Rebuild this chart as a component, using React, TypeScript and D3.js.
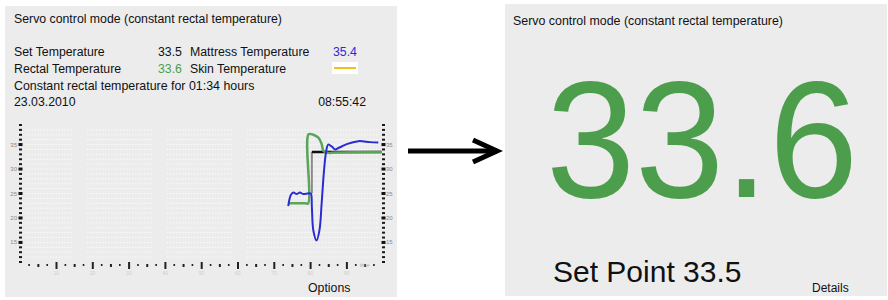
import React, { useRef, useEffect } from 'react';
import * as d3 from 'd3';

// time (minutes on the trend axis) and temperatures
const mattressTime = [73.9, 74.6, 75.3, 76.2, 77.1, 78.0, 79.3, 80.1, 80.4, 80.8, 81.7, 82.5, 83.1, 83.7, 84.3, 84.9, 85.9, 86.8, 87.7, 88.6, 90.0, 93.2, 96.4, 98.7];
const mattressTemp = [22.4, 24.7, 25.2, 24.9, 25.2, 24.9, 25.0, 25.0, 22.3, 17.5, 15.4, 17.5, 23.0, 29.2, 33.4, 35.0, 34.6, 34.0, 34.3, 34.6, 35.1, 35.7, 35.5, 35.4];
const rectalTime = [73.9, 78.5, 79.4, 79.5, 80.8, 82.2, 83.1, 83.6, 84.9, 86.8, 99.6];
const rectalTemp = [23.0, 23.0, 23.0, 37.1, 37.0, 36.4, 35.1, 33.7, 33.3, 33.4, 33.5];
const setTime = [80.4, 99.6];
const setTemp = [33.5, 33.5];
const setStepTemp = [25.0, 33.5];

const yMajorTicks = [15, 20, 25, 30, 35];
const gridBlocks = [[1.5, 14.5], [18.5, 36.5], [40.5, 58.5], [62.5, 99]];

const GREEN = '#4c9e4c';
const BLUE = '#2b2bd4';
const PANEL = '#ececec';
const FONT = 'Liberation Sans, Arial, sans-serif';

const TrendPlot = () => {
  const ref = useRef<SVGGElement>(null);

  useEffect(() => {
    if (!ref.current) return;
    const g = d3.select(ref.current);
    g.selectAll('*').remove();

    const x = d3.scaleLinear().domain([0, 100]).range([20, 383]);
    const y = d3.scaleLinear().domain([11, 39]).range([262, 125]);

    // faint dotted grid
    const minorY = d3.range(12, 39, 1);
    gridBlocks.forEach(([a, b]) => {
      g.append('g')
        .selectAll('line')
        .data(minorY)
        .enter()
        .append('line')
        .attr('x1', x(a))
        .attr('x2', x(b))
        .attr('y1', d => y(d))
        .attr('y2', d => y(d))
        .attr('stroke', '#fbfbfb')
        .attr('stroke-width', 1)
        .attr('stroke-dasharray', '1.5,1.5');
    });

    // vertical axes (dotted ticks)
    [x(0), x(100)].forEach((ax, side) => {
      const axis = g.append('g');
      axis.selectAll('rect.minor')
        .data(d3.range(11, 39.5, 1))
        .enter()
        .append('rect')
        .attr('x', ax - 1)
        .attr('y', d => y(d) - 1)
        .attr('width', 3)
        .attr('height', 2)
        .attr('fill', '#1a1a1a');
      axis.selectAll('rect.major')
        .data(yMajorTicks)
        .enter()
        .append('rect')
        .attr('x', ax - 1.5)
        .attr('y', d => y(d) - 1.5)
        .attr('width', 4)
        .attr('height', 3)
        .attr('fill', '#111');
      axis.selectAll('text')
        .data(yMajorTicks)
        .enter()
        .append('text')
        .attr('x', side === 0 ? ax - 3 : ax + 3)
        .attr('y', d => y(d) + 2)
        .attr('text-anchor', side === 0 ? 'end' : 'start')
        .attr('font-size', 6)
        .attr('font-family', FONT)
        .attr('fill', '#8a8a8a')
        .text(d => d);
    });

    // time axis
    const xa = g.append('g');
    const xBase = 265;
    xa.selectAll('rect.minor')
      .data(d3.range(2.5, 100, 2.5))
      .enter()
      .append('rect')
      .attr('x', d => x(d) - 0.8)
      .attr('y', d => (d % 10 === 0 ? xBase - 3 : xBase - 1))
      .attr('width', d => (d % 5 === 0 ? 2 : 1.6))
      .attr('height', d => (d % 10 === 0 ? 7 : d % 5 === 0 ? 3 : 2))
      .attr('fill', '#222');
    xa.selectAll('text')
      .data(d3.range(10, 100, 10))
      .enter()
      .append('text')
      .attr('x', d => x(d))
      .attr('y', xBase + 10)
      .attr('text-anchor', 'middle')
      .attr('font-size', 5)
      .attr('font-family', FONT)
      .attr('fill', '#cdcdcd')
      .text(d => d);
    xa.append('text')
      .attr('x', x(95))
      .attr('y', xBase + 2)
      .attr('text-anchor', 'middle')
      .attr('font-size', 5)
      .attr('font-family', FONT)
      .attr('fill', '#aaa')
      .text('time');

    const line = d3.line<[number, number]>()
      .x(d => x(d[0]))
      .y(d => y(d[1]))
      .curve(d3.curveCatmullRom.alpha(0.5));

    // set temperature step
    g.append('line')
      .attr('x1', x(setTime[0]))
      .attr('x2', x(setTime[0]))
      .attr('y1', y(setStepTemp[0]))
      .attr('y2', y(setStepTemp[1]))
      .attr('stroke', '#8a8a8a')
      .attr('stroke-width', 2);

    g.append('path')
      .datum(setTime.map((t, i) => [t, setTemp[i]] as [number, number]))
      .attr('d', d3.line<[number, number]>().x(d => x(d[0])).y(d => y(d[1])))
      .attr('fill', 'none')
      .attr('stroke', '#111')
      .attr('stroke-width', 2.5);

    g.append('path')
      .datum(rectalTime.map((t, i) => [t, rectalTemp[i]] as [number, number]))
      .attr('d', line)
      .attr('fill', 'none')
      .attr('stroke', '#5aa55a')
      .attr('stroke-width', 2.5);

    g.append('path')
      .datum(mattressTime.map((t, i) => [t, mattressTemp[i]] as [number, number]))
      .attr('d', line)
      .attr('fill', 'none')
      .attr('stroke', BLUE)
      .attr('stroke-width', 2);
  }, []);

  return <g ref={ref} />;
};

const App = () => {
  const t = { fontFamily: FONT, fill: '#111' } as const;
  return (
    <svg width={888} height={300} style={{ position: 'absolute', left: 0, top: 0, background: '#fff' }}>
      {/* left panel */}
      <rect x={5} y={6} width={392} height={291} fill={PANEL} />
      <text x={14} y={23} fontSize={12.3} {...t}>Servo control mode (constant rectal temperature)</text>
      <text x={14} y={56} fontSize={12.3} {...t}>Set Temperature</text>
      <text x={158} y={56} fontSize={12.3} {...t}>33.5</text>
      <text x={190} y={56} fontSize={12.3} {...t}>Mattress Temperature</text>
      <text x={333} y={56} fontSize={12.3} {...t} fill={BLUE}>35.4</text>
      <text x={14} y={73} fontSize={12.3} {...t}>Rectal Temperature</text>
      <text x={158} y={73} fontSize={12.3} {...t} fill={GREEN}>33.6</text>
      <text x={190} y={73} fontSize={12.3} {...t}>Skin Temperature</text>
      <rect x={332} y={62} width={26} height={12} fill="#fff" />
      <line x1={334} x2={356} y1={68} y2={68} stroke="#f0c020" strokeWidth={2} />
      <text x={14} y={90} fontSize={12.4} {...t}>Constant rectal temperature for 01:34 hours</text>
      <text x={14} y={106} fontSize={12.3} {...t}>23.03.2010</text>
      <text x={366} y={106} fontSize={12.3} textAnchor="end" {...t}>08:55:42</text>
      <TrendPlot />
      <text x={308} y={292} fontSize={12.3} {...t}>Options</text>

      {/* arrow */}
      <line x1={408} x2={497} y1={151} y2={151} stroke="#000" strokeWidth={5} />
      <polyline points="473,140 497,151 473,162" fill="none" stroke="#000" strokeWidth={5} strokeLinejoin="miter" />

      {/* right panel */}
      <rect x={505} y={4} width={382} height={292} fill={PANEL} />
      <text x={513} y={25} fontSize={12.4} {...t}>Servo control mode (constant rectal temperature)</text>
      <text x={0} y={197} fontSize={168} textAnchor="middle" transform="translate(702,0) scale(0.955,1)" {...t} fill={GREEN}>33.6</text>
      <text x={553} y={282} fontSize={30} {...t}>Set Point 33.5</text>
      <text x={812} y={292} fontSize={12} {...t}>Details</text>
    </svg>
  );
};

export default App;
